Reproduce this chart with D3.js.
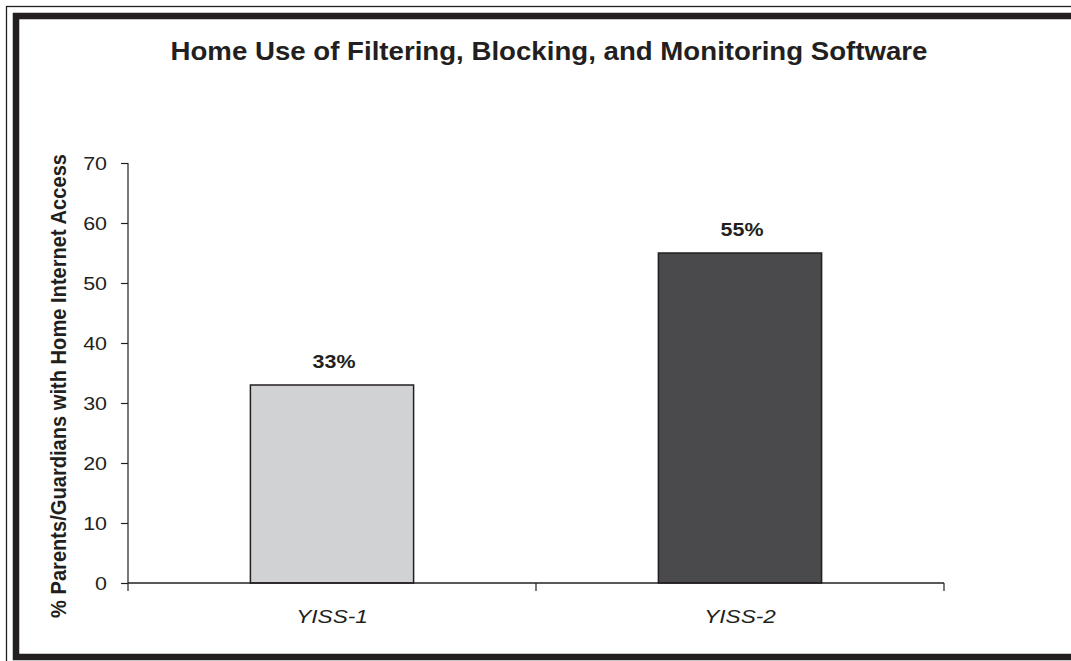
<!DOCTYPE html>
<html>
<head>
<meta charset="utf-8">
<script src="https://cdn.jsdelivr.net/npm/d3@7"></script>
<style>
  html, body { margin: 0; padding: 0; background: #fff; overflow: hidden; }
  text { font-family: "Liberation Sans", Arial, sans-serif; fill: #231f20; }
</style>
</head>
<body>
<script>
'use strict';

// chart data
const categories = ["YISS-1", "YISS-2"];
const values = [33, 55];
const valueLabels = ["33%", "55%"];
const barColors = ["#d1d2d4", "#4a4a4c"];
const yTicks = [0, 10, 20, 30, 40, 50, 60, 70];

const chartTitle = "Home Use of Filtering, Blocking, and Monitoring Software";
const yTitle = "% Parents/Guardians with Home Internet Access";

const ink = "#231f20";
const stretch = 1.19; // source text looks wider than it is tall

(function() {
  let svg = d3.select('body')
    .append('svg')
    .attr('width', 1071)
    .attr('height', 661);

  // frame: thin outer line and thick inner line
  svg.append('rect')
    .attr('x', 6.5).attr('y', 6.5)
    .attr('width', 1100).attr('height', 680)
    .attr('fill', 'none')
    .attr('stroke', ink)
    .attr('stroke-width', 1.3);

  svg.append('rect')
    .attr('x', 16).attr('y', 16)
    .attr('width', 1090).attr('height', 641)
    .attr('fill', 'none')
    .attr('stroke', ink)
    .attr('stroke-width', 6.5);

  // scales
  let xScale = d3.scaleBand()
    .domain(categories)
    .range([128, 944])
    .padding(0);

  let yScale = d3.scaleLinear()
    .domain([0, 70])
    .range([583, 163]);

  let barWidth = xScale.bandwidth() * 0.4;

  // bars
  svg.selectAll('.bar')
    .data(categories)
    .enter()
    .append('rect')
      .attr('class', 'bar')
      .attr('x', d => xScale(d) + xScale.bandwidth() / 2 - barWidth / 2)
      .attr('y', (d, i) => yScale(values[i]))
      .attr('width', barWidth)
      .attr('height', (d, i) => yScale(0) - yScale(values[i]))
      .attr('fill', (d, i) => barColors[i])
      .attr('stroke', ink)
      .attr('stroke-width', 1.5);

  // value labels above bars
  svg.selectAll('.val')
    .data(categories)
    .enter()
    .append('text')
      .attr('class', 'val')
      .attr('transform', (d, i) => 'translate(' + (xScale(d) + xScale.bandwidth() / 2 + 2) + ',' +
        (yScale(values[i]) - 17) + ') scale(' + stretch + ',1)')
      .attr('text-anchor', 'middle')
      .style('font-size', '18px')
      .style('font-weight', 'bold')
      .text((d, i) => valueLabels[i]);

  // y axis
  let yAxis = d3.axisLeft(yScale)
    .tickValues(yTicks)
    .tickSize(7)
    .tickSizeOuter(0)
    .tickFormat(d => d);

  let yG = svg.append('g')
    .attr('transform', 'translate(128,0)')
    .call(yAxis);
  yG.select('.domain').remove();
  yG.selectAll('line').attr('stroke', ink).attr('stroke-width', 1.2);
  yG.selectAll('text')
    .attr('x', null)
    .attr('dy', null)
    .attr('transform', 'translate(-21,6.5) scale(' + stretch + ',1)')
    .style('font-size', '18px')
    .style('font-family', '"Liberation Sans", Arial, sans-serif')
    .attr('fill', ink);

  svg.append('line')
    .attr('x1', 128).attr('x2', 128)
    .attr('y1', yScale(70)).attr('y2', yScale(0) + 8)
    .attr('stroke', ink).attr('stroke-width', 1.2);

  // x axis line and category boundary ticks
  svg.append('line')
    .attr('x1', xScale.range()[0]).attr('x2', xScale.range()[1])
    .attr('y1', yScale(0)).attr('y2', yScale(0))
    .attr('stroke', ink).attr('stroke-width', 1.5);

  let edges = categories.map(c => xScale(c) + xScale.bandwidth());
  svg.selectAll('.xtick')
    .data(edges)
    .enter()
    .append('line')
      .attr('x1', d => d).attr('x2', d => d)
      .attr('y1', yScale(0)).attr('y2', yScale(0) + 8)
      .attr('stroke', ink).attr('stroke-width', 1.2);

  // category labels
  svg.selectAll('.cat')
    .data(categories)
    .enter()
    .append('text')
      .attr('class', 'cat')
      .attr('transform', d => 'translate(' + (xScale(d) + xScale.bandwidth() / 2) + ',623) scale(' + stretch + ',1)')
      .attr('text-anchor', 'middle')
      .style('font-size', '19px')
      .style('font-style', 'italic')
      .text(d => d);

  // title
  svg.append('text')
    .attr('x', 549)
    .attr('y', 60)
    .attr('text-anchor', 'middle')
    .attr('textLength', 757)
    .attr('lengthAdjust', 'spacingAndGlyphs')
    .style('font-size', '26px')
    .style('font-weight', 'bold')
    .text(chartTitle);

  // y axis title
  svg.append('text')
    .attr('transform', 'translate(66,386) rotate(-90) scale(1,' + stretch + ')')
    .attr('text-anchor', 'middle')
    .attr('textLength', 464)
    .attr('lengthAdjust', 'spacingAndGlyphs')
    .style('font-size', '18px')
    .style('font-weight', 'bold')
    .text(yTitle);
})();
</script>
</body>
</html>
